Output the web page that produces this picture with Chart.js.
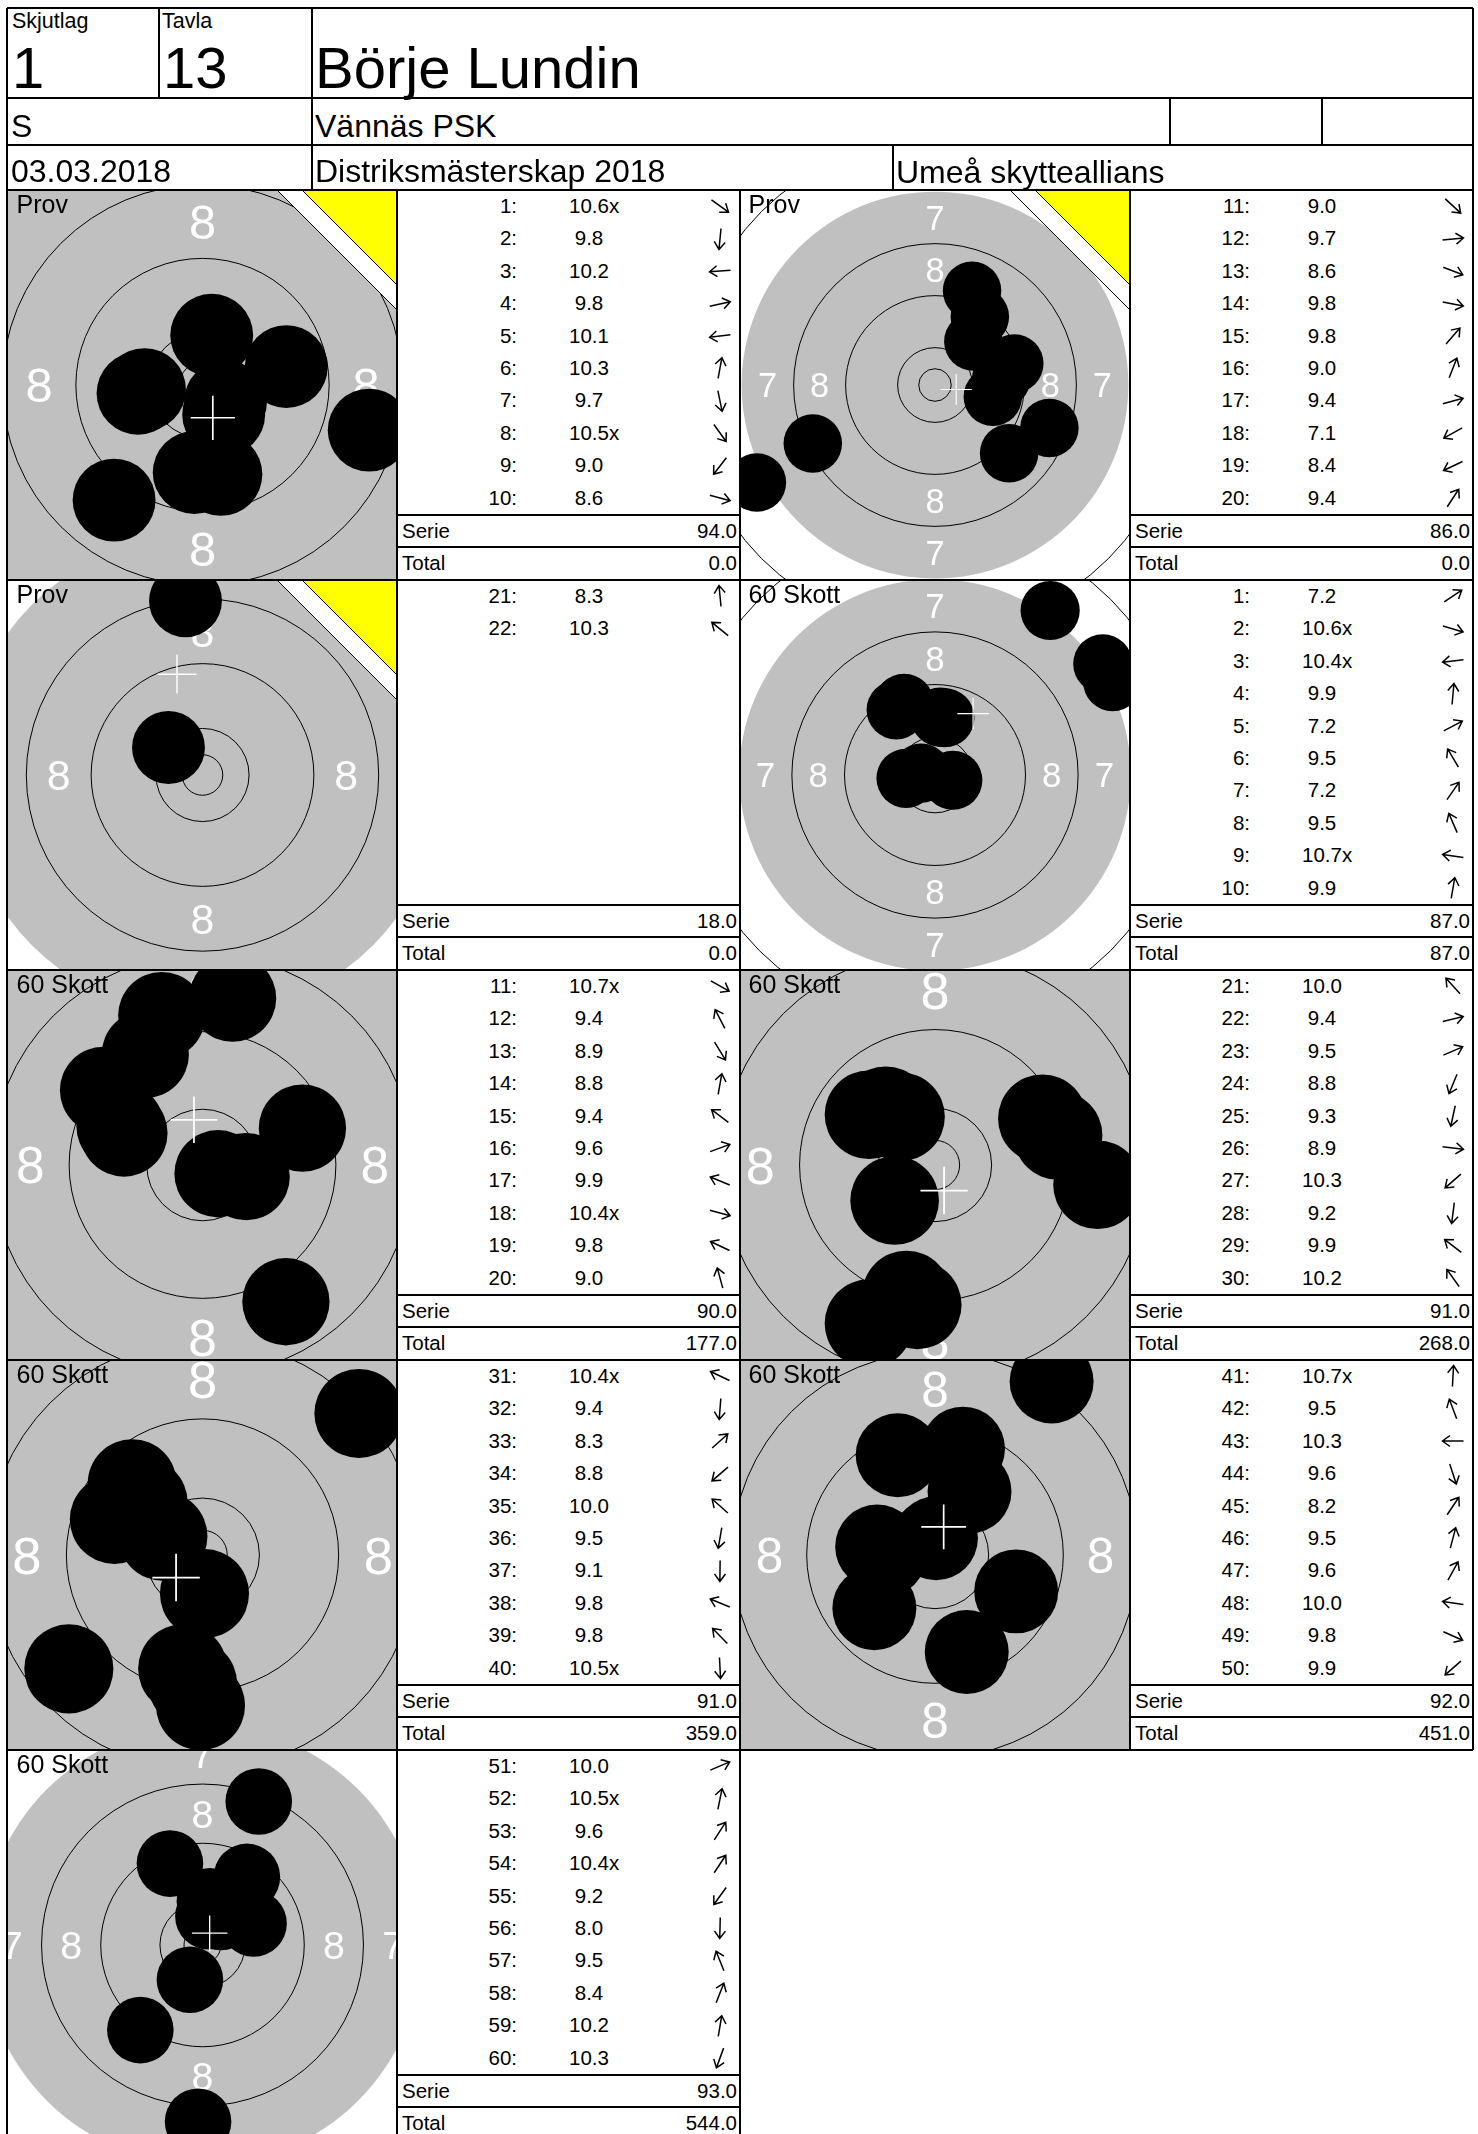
<!DOCTYPE html>
<html>
<head>
<meta charset="utf-8">
<title>Börje Lundin</title>
<script src="https://cdn.jsdelivr.net/npm/chart.js@4.4.1/dist/chart.umd.min.js"></script>
<style>
  html, body { margin: 0; padding: 0; background: #fff; }
  #page { position: relative; width: 1478px; height: 2134px; overflow: hidden; font-family: "Liberation Sans", Arial, sans-serif; }
  .t { position: absolute; white-space: nowrap; line-height: 1; color: #000; }
  .ln { position: absolute; background: #000; }
  canvas { position: absolute; }
  svg { position: absolute; overflow: visible; }
</style>
</head>
<body>
<div id="page"></div>
<script>
// ---- card header
const relayNo = '1';
const laneNo = '13';
const shooterName = 'Börje Lundin';
const shooterClass = 'S';
const clubName = 'Vännäs PSK';
const matchDate = '03.03.2018';
const matchName = 'Distriksmästerskap 2018';
const organiser = 'Umeå skytteallians';

// ---- series: printed score, and shot centre in mm from target centre [x, y] (y up)
const panelTitles = ['Prov', 'Prov', 'Prov', '60 Skott', '60 Skott', '60 Skott', '60 Skott', '60 Skott', '60 Skott'];
const firstShotNo = [1, 11, 21, 1, 11, 21, 31, 41, 51];

const prov1Scores = ['10.6x', '9.8', '10.2', '9.8', '10.1', '10.3', '9.7', '10.5x', '9.0', '8.6'];
const prov1Shots = [[2.5, -1.8], [-0.9, -9.5], [-6.3, -0.5], [9.1, 2.0], [-7.0, -0.9], [1.0, 5.4], [2.0, -9.7], [2.3, -3.2], [-9.6, -12.5], [18.1, -4.9]];

const prov2Scores = ['9.0', '9.7', '8.6', '9.8', '9.8', '9.0', '9.4', '7.1', '8.4', '9.4'];
const prov2Shots = [[11.4, -10.5], [10.2, 1.0], [17.6, -6.6], [8.9, -1.8], [5.9, 6.7], [5.7, 14.5], [12.2, 3.3], [-27.4, -15.0], [-18.8, -9.0], [6.9, 10.5]];

const prov3Scores = ['8.3', '10.3'];
const prov3Shots = [[-2.1, 21.5], [-4.2, 3.4]];

const s1Scores = ['7.2', '10.6x', '10.4x', '9.9', '7.2', '9.5', '7.2', '9.5', '10.7x', '9.9'];
const s1Shots = [[25.5, 16.9], [2.7, -0.8], [-4.4, -0.5], [0.8, 8.8], [27.0, 14.2], [-5.9, 9.9], [17.5, 25.0], [-4.7, 10.9], [-2.1, 0.3], [1.5, 8.7]];

const s2Scores = ['10.7x', '9.4', '8.9', '8.8', '9.4', '9.6', '9.9', '10.4x', '9.8', '9.0'];
const s2Shots = [[1.6, -0.9], [-5.9, 11.4], [8.6, -14.1], [3.1, 17.2], [-10.2, 7.7], [10.3, 3.8], [-8.1, 3.3], [4.5, -1.2], [-8.5, 4.0], [-4.2, 15.4]];

const s3Scores = ['10.0', '9.4', '9.5', '8.8', '9.3', '8.9', '10.3', '9.2', '9.9', '10.2'];
const s3Shots = [[-5.0, 5.5], [12.5, 3.0], [10.9, 4.7], [-6.7, -16.1], [-2.9, -13.2], [16.5, -2.0], [-4.1, -3.6], [-1.8, -14.2], [-6.7, 5.1], [-3.5, 4.9]];

const s4Scores = ['10.4x', '9.4', '8.3', '8.8', '10.0', '9.5', '9.1', '9.8', '9.8', '10.5x'];
const s4Shots = [[-4.0, 1.9], [-1.0, -13.0], [15.8, 14.3], [-13.5, -11.5], [-6.0, 5.3], [-2.0, -11.5], [-0.2, -15.2], [-8.9, 3.6], [-7.1, 7.2], [0.2, -3.9]];

const s5Scores = ['10.7x', '9.5', '10.3', '9.6', '8.2', '9.5', '9.6', '10.0', '9.8', '9.9'];
const s5Shots = [[0.1, 1.8], [-4.0, 10.7], [-5.4, 0.0], [3.4, -10.4], [12.5, 18.6], [3.0, 11.4], [3.7, 6.8], [-6.2, 0.9], [8.7, -3.9], [-6.5, -5.7]];

const s6Scores = ['10.0', '10.5x', '9.6', '10.4x', '9.2', '8.0', '9.5', '8.4', '10.2', '10.3'];
const s6Shots = [[6.9, 2.9], [0.8, 3.9], [6.0, 9.2], [2.5, 3.8], [-8.4, -11.5], [-0.6, -23.9], [-4.4, 11.0], [7.6, 19.4], [1.0, 5.9], [-1.7, -4.7]];

const serieSums = [94.0, 86.0, 18.0, 87.0, 90.0, 91.0, 91.0, 92.0, 93.0];
const runningTotals = [0.0, 0.0, 0.0, 87.0, 177.0, 268.0, 359.0, 451.0, 544.0];

const allScores = [prov1Scores, prov2Scores, prov3Scores, s1Scores, s2Scores, s3Scores, s4Scores, s5Scores, s6Scores];
const allShots = [prov1Shots, prov2Shots, prov3Shots, s1Shots, s2Shots, s3Shots, s4Shots, s5Shots, s6Shots];

// ---- layout (px per mm of each target view, page geometry)
const panelZoom = [9.21, 6.5, 8.1, 6.58, 9.7, 9.85, 9.9, 9.33, 7.4];
const PANEL_TOP = 190, PANEL_H = 390;
const TARGET_X = [8, 740], TARGET_W = [389, 390];
const LIST_L = [398, 1131], LIST_R = [740, 1473];
const LW = 1.5;

// air pistol target, mm
const SHOT_R = 4.5;
const INNER_TEN = 2.5;
const RING10 = 5.75;
const RING_STEP = 8;
function ringR(k) { return RING10 + (10 - k) * RING_STEP; }

const page = document.getElementById('page');

function txt(x, base, s, fs, align) {
  const d = document.createElement('div');
  d.className = 't';
  d.textContent = s;
  d.style.fontSize = fs + 'px';
  d.style.left = x + 'px';
  d.style.top = (base - 0.8465 * fs) + 'px';
  if (align === 'right') d.style.transform = 'translateX(-100%)';
  if (align === 'center') d.style.transform = 'translateX(-50%)';
  page.appendChild(d);
  return d;
}

function hline(x1, x2, y) {
  const d = document.createElement('div');
  d.className = 'ln';
  d.style.left = x1 + 'px'; d.style.width = (x2 - x1) + 'px';
  d.style.top = (y - LW / 2) + 'px'; d.style.height = LW + 'px';
  page.appendChild(d);
}
function vline(x, y1, y2) {
  const d = document.createElement('div');
  d.className = 'ln';
  d.style.left = (x - LW / 2) + 'px'; d.style.width = LW + 'px';
  d.style.top = y1 + 'px'; d.style.height = (y2 - y1) + 'px';
  page.appendChild(d);
}

function arrow(cx, cy, ang) {
  const ns = 'http://www.w3.org/2000/svg';
  const svg = document.createElementNS(ns, 'svg');
  svg.setAttribute('width', 26); svg.setAttribute('height', 26);
  svg.style.left = (cx - 13) + 'px'; svg.style.top = (cy - 13) + 'px';
  const p = document.createElementNS(ns, 'path');
  p.setAttribute('d', 'M-10.5,0 H10.5 M3,-5.5 L10.5,0 L3,5.5');
  p.setAttribute('transform', 'translate(13,13) rotate(' + (-ang) + ')');
  p.setAttribute('fill', 'none'); p.setAttribute('stroke', '#000'); p.setAttribute('stroke-width', '1.5');
  svg.appendChild(p);
  page.appendChild(svg);
}

// rings, numbers, trial-shot corner and mean-point cross
const targetPlugin = {
  id: 'target',
  beforeDatasetsDraw(chart, args, opts) {
    const { ctx, chartArea: a, scales: { x, y } } = chart;
    const cx = x.getPixelForValue(0), cy = y.getPixelForValue(0);
    const k = x.getPixelForValue(1) - cx;
    ctx.save();
    ctx.beginPath(); ctx.rect(a.left, a.top, a.right - a.left, a.bottom - a.top); ctx.clip();
    ctx.fillStyle = '#fff';
    ctx.fillRect(a.left, a.top, a.right - a.left, a.bottom - a.top);
    ctx.fillStyle = '#c0c0c0';
    ctx.beginPath(); ctx.arc(cx, cy, ringR(7) * k, 0, Math.PI * 2); ctx.fill();

    ctx.strokeStyle = '#000'; ctx.lineWidth = 1;
    [INNER_TEN].concat([10, 9, 8, 6, 5, 4, 3, 2, 1].map(ringR)).forEach(r => {
      ctx.beginPath(); ctx.arc(cx, cy, r * k, 0, Math.PI * 2); ctx.stroke();
    });

    const fs = 5.3 * k;
    ctx.font = fs + 'px "Liberation Sans", Arial, sans-serif';
    ctx.textAlign = 'center'; ctx.textBaseline = 'alphabetic';
    for (let n = 1; n <= 8; n++) {
      const r = (ringR(n) - RING_STEP / 2) * k;
      ctx.fillStyle = n >= 7 ? '#fff' : '#000';
      [[0, -1], [0, 1], [-1, 0], [1, 0]].forEach(([dx, dy]) => {
        ctx.fillText(String(n), cx + dx * r, cy + dy * r + fs * 0.358);
      });
    }

    if (opts.prov) {
      const R = a.right, T = a.top;
      ctx.fillStyle = '#fff';
      ctx.beginPath(); ctx.moveTo(R - 120, T); ctx.lineTo(R, T); ctx.lineTo(R, T + 120); ctx.closePath(); ctx.fill();
      ctx.beginPath(); ctx.moveTo(R - 120, T); ctx.lineTo(R, T + 120); ctx.stroke();
      ctx.fillStyle = '#ffff00';
      ctx.beginPath(); ctx.moveTo(R - 95, T); ctx.lineTo(R, T); ctx.lineTo(R, T + 95); ctx.closePath(); ctx.fill();
      ctx.beginPath(); ctx.moveTo(R - 95, T); ctx.lineTo(R, T + 95); ctx.stroke();
    }
    ctx.restore();
  },
  afterDatasetsDraw(chart) {
    const { ctx, scales: { x, y } } = chart;
    const pts = chart.data.datasets[0].data;
    const mx = pts.reduce((s, p) => s + p.x, 0) / pts.length;
    const my = pts.reduce((s, p) => s + p.y, 0) / pts.length;
    const px = x.getPixelForValue(mx), py = y.getPixelForValue(my);
    const h = x.getPixelForValue(2.4) - x.getPixelForValue(0);
    ctx.save();
    ctx.strokeStyle = '#fff';
    ctx.lineWidth = Math.max(1, 0.18 * (x.getPixelForValue(1) - x.getPixelForValue(0)));
    ctx.beginPath();
    ctx.moveTo(px - h, py); ctx.lineTo(px + h, py);
    ctx.moveTo(px, py - h); ctx.lineTo(px, py + h);
    ctx.stroke();
    ctx.restore();
  }
};

function shotRadius(c) {
  const sx = c.chart.scales.x;
  return sx.getPixelForValue(SHOT_R) - sx.getPixelForValue(0);
}

// ---- panels
allShots.forEach((shots, i) => {
  const row = Math.floor(i / 2), col = i % 2;
  const T = PANEL_TOP + row * PANEL_H;
  const W = TARGET_W[col], H = PANEL_H, z = panelZoom[i];

  const cv = document.createElement('canvas');
  cv.width = W; cv.height = H;
  cv.style.left = TARGET_X[col] + 'px'; cv.style.top = T + 'px';
  cv.style.width = W + 'px'; cv.style.height = H + 'px';
  page.appendChild(cv);

  new Chart(cv, {
    type: 'scatter',
    data: {
      datasets: [{
        data: shots.map(s => ({ x: s[0], y: s[1] })),
        backgroundColor: '#000',
        borderWidth: 0,
        pointRadius: shotRadius,
        pointHoverRadius: shotRadius
      }]
    },
    options: {
      responsive: false,
      animation: false,
      events: [],
      layout: { padding: 0 },
      scales: {
        x: { type: 'linear', display: false, min: -W / 2 / z, max: W / 2 / z },
        y: { type: 'linear', display: false, min: -H / 2 / z, max: H / 2 / z }
      },
      plugins: {
        legend: { display: false },
        tooltip: { enabled: false },
        target: { prov: panelTitles[i] === 'Prov' }
      }
    },
    plugins: [targetPlugin]
  });

  txt(TARGET_X[col] + 8.5, T + 23, panelTitles[i], 25);

  // score list
  const L = LIST_L[col], R = LIST_R[col];
  const scores = allScores[i];
  scores.forEach((sc, j) => {
    const base = T + 23.3 + 32.4 * j;
    txt(L + 119, base, (firstShotNo[i] + j) + ':', 20.5, 'right');
    const num = sc.replace('x', '');
    const d = txt(L + 191, base, num, 20.5, 'center');
    if (sc.endsWith('x')) {
      const xs = document.createElement('span');
      xs.style.position = 'absolute';
      xs.textContent = 'x';
      d.appendChild(xs);
    }
    const ang = Math.atan2(shots[j][1], shots[j][0]) * 180 / Math.PI;
    arrow(L + 322, base - 7, ang);
  });
  hline(L, R, T + 325);
  hline(L, R, T + 357);
  txt(L + 4, T + 348, 'Serie', 20.5);
  txt(R - 3, T + 348, serieSums[i].toFixed(1), 20.5, 'right');
  txt(L + 4, T + 380, 'Total', 20.5);
  txt(R - 3, T + 380, runningTotals[i].toFixed(1), 20.5, 'right');
});

// ---- header
txt(12, 29.5, 'Skjutlag', 21.5);
txt(162, 29.5, 'Tavla', 21.5);
txt(12, 88, relayNo, 58);
txt(163, 88, laneNo, 58);
txt(315, 88, shooterName, 58);
txt(11, 137.5, shooterClass, 32);
txt(315, 137.5, clubName, 32);
txt(11, 182, matchDate, 32);
txt(315, 182, matchName, 32);
txt(896, 183, organiser, 32);

// ---- grid lines
[8, 98, 145, 190, 580, 970, 1360, 1750].forEach(y => hline(7, 1473, y));
vline(7, 8, 2134);
vline(1473, 8, 1750);
vline(159, 8, 98);
vline(312, 8, 190);
vline(1170, 98, 145);
vline(1322, 98, 145);
vline(893, 145, 190);
vline(397, 190, 2134);
vline(740, 190, 2134);
vline(1130, 190, 1750);
</script>
</body>
</html>
